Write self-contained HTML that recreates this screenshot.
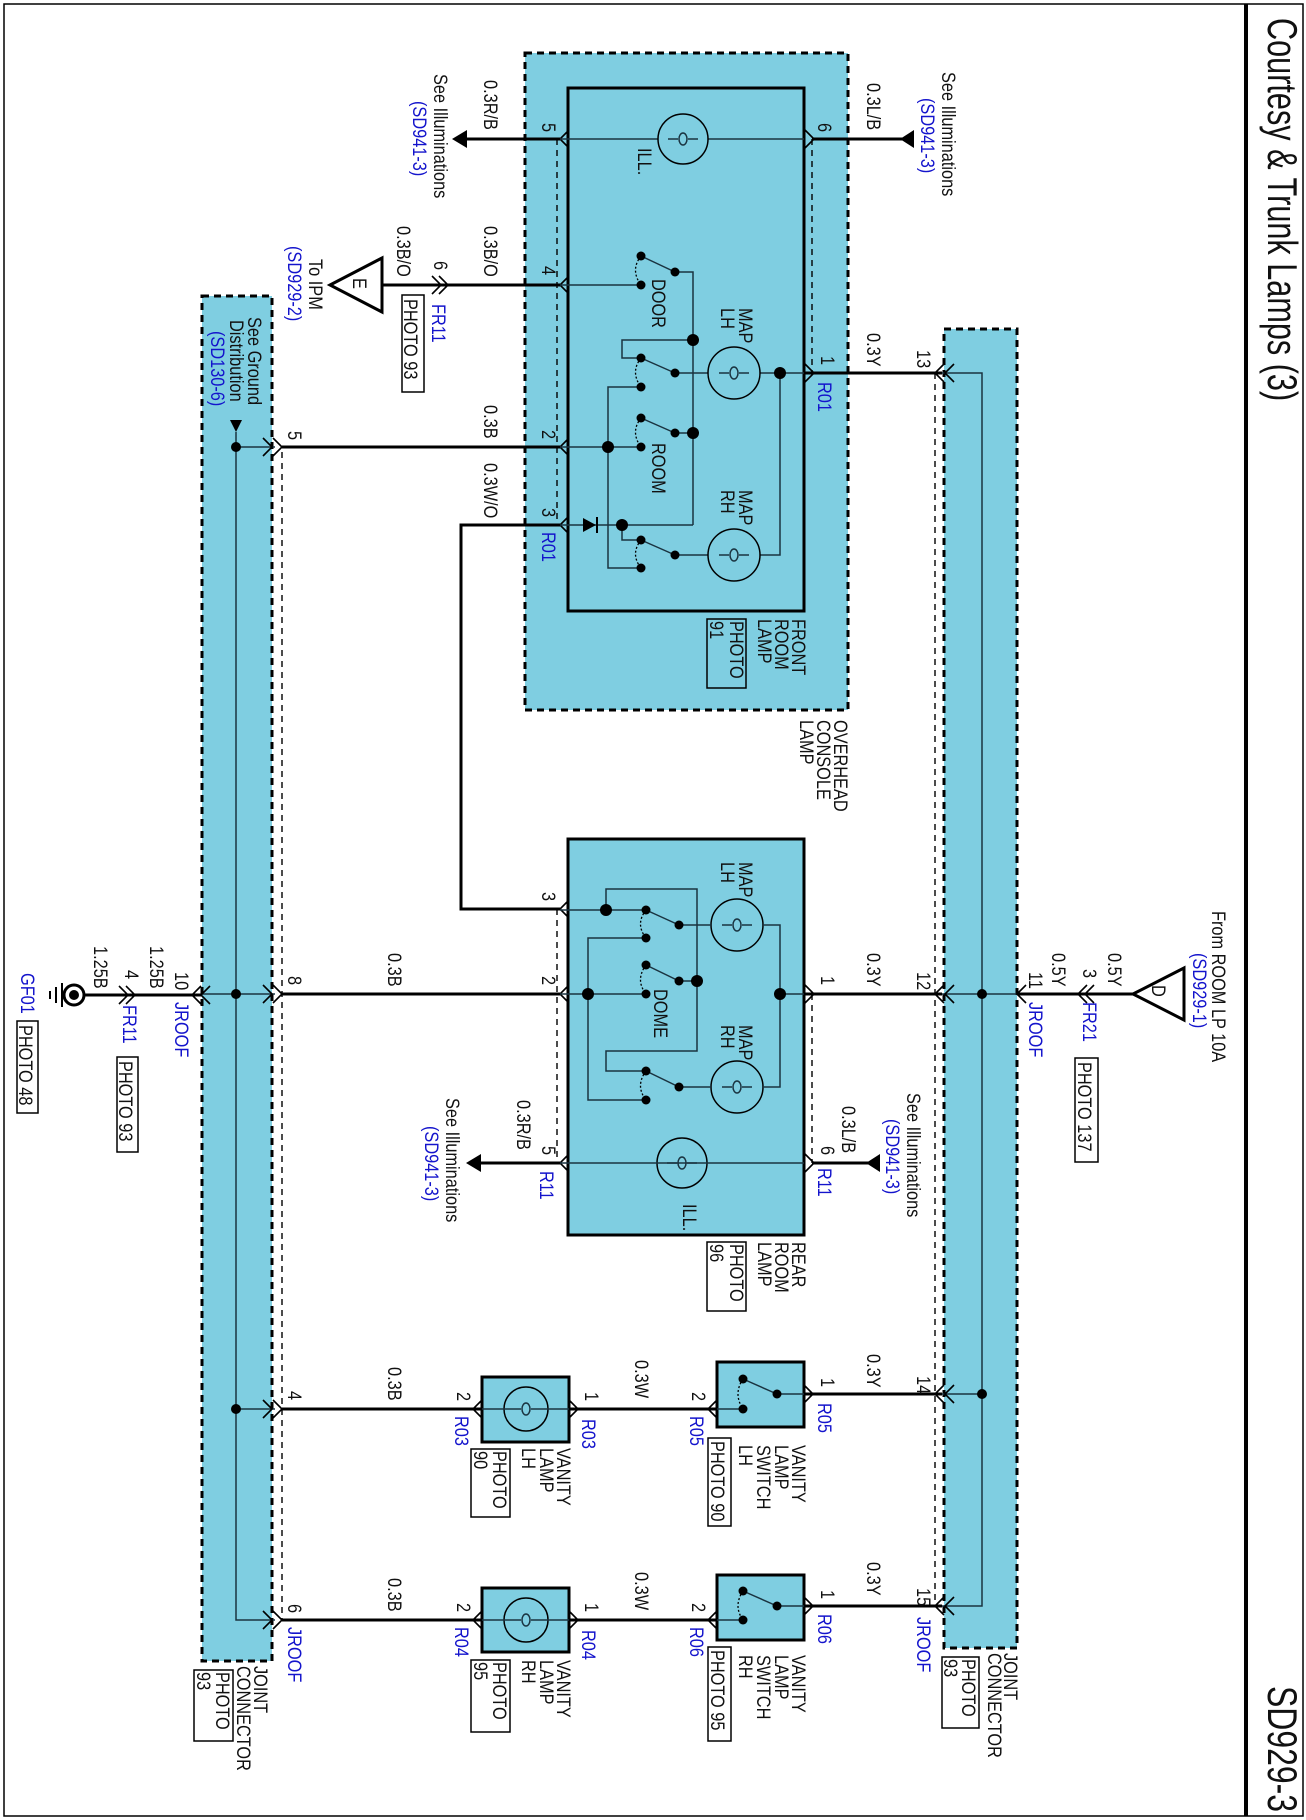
<!DOCTYPE html>
<html><head><meta charset="utf-8"><style>
html,body{margin:0;padding:0;background:#fff;}
svg{display:block;}
text{font-family:"Liberation Sans",Arial,sans-serif;font-size:19px;fill:#111;}
.b{fill:#1414cc;}
.w{stroke:#000;stroke-width:3;fill:none;}
.t{stroke:#1a3340;stroke-width:1.5;fill:none;}
.c{stroke:#000;stroke-width:1.6;fill:none;}
.d{stroke:#000;stroke-width:1.4;fill:none;stroke-dasharray:6,5;}
.bx{stroke:#000;stroke-width:1.5;fill:none;}
.cy{fill:#7fcee1;stroke:#000;stroke-width:3;stroke-dasharray:7,5;}
.lb{fill:#7fcee1;stroke:#000;stroke-width:3;}
.sa{stroke:#000;stroke-width:1.3;fill:none;stroke-dasharray:2,2;}
</style></head><body>
<svg width="1306" height="1820" viewBox="0 0 1306 1820" xmlns="http://www.w3.org/2000/svg">
<rect x="4" y="4" width="1299" height="1812" fill="none" stroke="#000" stroke-width="1.5"/>
<line x1="1246" y1="4" x2="1246" y2="1816" stroke="#000" stroke-width="4"/>
<text style="font-size:42px" transform="translate(1268,18) rotate(90) scale(.73,1)">Courtesy &amp; Trunk Lamps (3)</text>
<text style="font-size:42px" transform="translate(1268,1686) rotate(90) scale(.76,1)">SD929-3</text>

<rect class="cy" x="525" y="53" width="323" height="657"/>
<rect class="cy" x="202" y="296" width="70" height="1365"/>
<rect class="cy" x="944" y="329" width="73" height="1319"/>
<rect class="lb" x="568" y="88" width="236" height="523"/>
<rect class="lb" x="568" y="839" width="236" height="396"/>
<rect class="lb" x="482" y="1377" width="87" height="65"/>
<rect class="lb" x="482" y="1588" width="87" height="64"/>
<rect class="lb" x="717" y="1362" width="87" height="65"/>
<rect class="lb" x="717" y="1575" width="87" height="65"/>

<line class="d" x1="557" y1="139" x2="557" y2="525"/>
<line class="d" x1="812" y1="139" x2="812" y2="373"/>
<line class="d" x1="557" y1="909" x2="557" y2="1163"/>
<line class="d" x1="812" y1="994" x2="812" y2="1163"/>
<line class="d" x1="282" y1="452" x2="282" y2="1620"/>
<line class="d" x1="935" y1="373" x2="935" y2="1606"/>

<path class="t" d="M236,432 V1620 H275"/>
<polygon points="230,420 242,420 236,432" fill="#000"/>
<path class="t" d="M942,373 H982 V1606 H942"/>
<line class="t" x1="236" y1="447" x2="275" y2="447"/>
<line class="t" x1="202" y1="994" x2="275" y2="994"/>
<line class="t" x1="236" y1="1409" x2="275" y2="1409"/>
<line class="t" x1="942" y1="994" x2="1017" y2="994"/>
<line class="t" x1="942" y1="1394" x2="982" y2="1394"/>
<g fill="#000"><circle cx="236" cy="447" r="5"/><circle cx="236" cy="994" r="5"/><circle cx="236" cy="1409" r="5"/>
<circle cx="982" cy="994" r="5"/><circle cx="982" cy="1394" r="5"/></g>

<line class="w" x1="466" y1="139" x2="560" y2="139"/>
<polygon points="452,139 467,130 467,148" fill="#000"/>
<line class="w" x1="812" y1="139" x2="905" y2="139"/>
<polygon points="900,139 914,130 914,148" fill="#000"/>
<line class="w" x1="382" y1="285" x2="560" y2="285"/>
<polygon points="330,285 382,258 382,312" fill="#fff" stroke="#000" stroke-width="3"/>
<line class="w" x1="804" y1="373" x2="942" y2="373"/>
<line class="w" x1="282" y1="447" x2="560" y2="447"/>
<path class="w" d="M560,525 H461 V909 H560"/>
<line class="w" x1="84" y1="995" x2="202" y2="995"/>
<line class="w" x1="282" y1="994" x2="560" y2="994"/>
<line class="w" x1="804" y1="994" x2="942" y2="994"/>
<line class="w" x1="1017" y1="994" x2="1133" y2="994"/>
<polygon points="1133,994 1184,968 1184,1020" fill="#fff" stroke="#000" stroke-width="3"/>
<line class="w" x1="476" y1="1163" x2="560" y2="1163"/>
<polygon points="466,1163 481,1154 481,1172" fill="#000"/>
<line class="w" x1="812" y1="1163" x2="870" y2="1163"/>
<polygon points="866,1163 880,1154 880,1172" fill="#000"/>
<line class="w" x1="282" y1="1409" x2="482" y2="1409"/>
<line class="w" x1="569" y1="1409" x2="717" y2="1409"/>
<line class="w" x1="804" y1="1394" x2="942" y2="1394"/>
<line class="w" x1="282" y1="1620" x2="482" y2="1620"/>
<line class="w" x1="569" y1="1620" x2="717" y2="1620"/>
<line class="w" x1="804" y1="1606" x2="942" y2="1606"/>

<circle cx="74" cy="995" r="10" fill="none" stroke="#000" stroke-width="3"/>
<circle cx="74" cy="995" r="5" fill="#000"/>
<line x1="62" y1="983" x2="62" y2="1007" stroke="#000" stroke-width="2"/>
<line x1="56" y1="987" x2="56" y2="1003" stroke="#000" stroke-width="2"/>
<line x1="50" y1="991" x2="50" y2="999" stroke="#000" stroke-width="2"/>

<g class="c">
<path d="M569,130 L560,139 L569,148"/><path d="M569,276 L560,285 L569,294"/><path d="M569,438 L560,447 L569,456"/><path d="M569,516 L560,525 L569,534"/>
<path d="M805,130 L814,139 L805,148"/><path d="M805,364 L814,373 L805,382"/>
<path d="M569,900 L560,909 L569,918"/><path d="M569,985 L560,994 L569,1003"/><path d="M569,1154 L560,1163 L569,1172"/>
<path d="M805,985 L814,994 L805,1003"/><path d="M805,1154 L814,1163 L805,1172"/>
<path d="M432,276 L441,285 L432,294"/><path d="M439,276 L448,285 L439,294"/>
<path d="M119,986 L128,995 L119,1004"/><path d="M126,986 L135,995 L126,1004"/>
<path d="M201,986 L192,995 L201,1004"/><path d="M210,986 L201,995 L210,1004"/>
<path d="M1087,985 L1078,994 L1087,1003"/><path d="M1094,985 L1085,994 L1094,1003"/>
<path d="M1026,985 L1017,994 L1026,1003"/>
<path d="M263,438 L272,447 L263,456"/><path d="M273,438 L282,447 L273,456"/>
<path d="M263,985 L272,994 L263,1003"/><path d="M273,985 L282,994 L273,1003"/>
<path d="M263,1400 L272,1409 L263,1418"/><path d="M273,1400 L282,1409 L273,1418"/>
<path d="M263,1611 L272,1620 L263,1629"/><path d="M273,1611 L282,1620 L273,1629"/>
<path d="M944,364 L935,373 L944,382"/><path d="M954,364 L945,373 L954,382"/>
<path d="M944,985 L935,994 L944,1003"/><path d="M954,985 L945,994 L954,1003"/>
<path d="M944,1385 L935,1394 L944,1403"/><path d="M954,1385 L945,1394 L954,1403"/>
<path d="M944,1597 L935,1606 L944,1615"/><path d="M954,1597 L945,1606 L954,1615"/>
<path d="M482,1400 L473,1409 L482,1418"/><path d="M569,1400 L578,1409 L569,1418"/>
<path d="M482,1611 L473,1620 L482,1629"/><path d="M569,1611 L578,1620 L569,1629"/>
<path d="M717,1400 L708,1409 L717,1418"/><path d="M804,1385 L813,1394 L804,1403"/>
<path d="M717,1611 L708,1620 L717,1629"/><path d="M804,1597 L813,1606 L804,1615"/>
</g>

<g class="t">
<line x1="560" y1="139" x2="804" y2="139"/>
<line x1="560" y1="285" x2="641" y2="285"/>
<path d="M675,272 H693 V525"/>
<path d="M641,358 H622 V340 H693"/>
<path d="M641,387 H608 V568 H641"/>
<line x1="675" y1="373" x2="804" y2="373"/>
<path d="M780,373 V555 H675"/>
<line x1="560" y1="447" x2="641" y2="447"/>
<line x1="675" y1="433" x2="693" y2="433"/>
<line x1="560" y1="525" x2="693" y2="525"/>
<path d="M622,525 V540 H641"/>
<line x1="641" y1="256" x2="675" y2="272"/><line x1="641" y1="358" x2="675" y2="373"/>
<line x1="641" y1="418" x2="675" y2="433"/><line x1="641" y1="540" x2="675" y2="555"/>
</g>
<polygon points="583,518 583,532 596,525" fill="#000"/><line x1="597" y1="517" x2="597" y2="533" stroke="#000" stroke-width="2"/>
<g class="sa"><path d="M641,256 Q630,270 641,285"/><path d="M641,358 Q630,372 641,387"/><path d="M641,418 Q630,432 641,447"/><path d="M641,540 Q630,554 641,568"/></g>
<g fill="#000">
<circle cx="641" cy="256" r="4.5"/><circle cx="675" cy="272" r="4.5"/><circle cx="641" cy="285" r="4.5"/>
<circle cx="693" cy="340" r="6"/><circle cx="641" cy="358" r="4.5"/><circle cx="675" cy="373" r="4.5"/><circle cx="641" cy="387" r="4.5"/>
<circle cx="780" cy="373" r="6"/>
<circle cx="641" cy="418" r="4.5"/><circle cx="675" cy="433" r="4.5"/><circle cx="693" cy="433" r="6"/><circle cx="641" cy="447" r="4.5"/><circle cx="608" cy="447" r="6"/>
<circle cx="622" cy="525" r="6"/><circle cx="641" cy="540" r="4.5"/><circle cx="675" cy="555" r="4.5"/><circle cx="641" cy="568" r="4.5"/>
</g>
<g fill="#7fcee1" stroke="#000" stroke-width="1.5">
<circle cx="683" cy="139" r="25"/><circle cx="734" cy="373" r="26"/><circle cx="734" cy="555" r="26"/>
<circle cx="682" cy="1163" r="25"/><circle cx="737" cy="925" r="26"/><circle cx="737" cy="1087" r="26"/>
<circle cx="526" cy="1409" r="22"/><circle cx="526" cy="1620" r="22"/>
</g>
<g class="t">
<path d="M668,139 H678 M688,139 H698"/><ellipse cx="683" cy="139" rx="4" ry="6"/>
<path d="M719,373 H729 M739,373 H749"/><ellipse cx="734" cy="373" rx="4" ry="6"/>
<path d="M719,555 H729 M739,555 H749"/><ellipse cx="734" cy="555" rx="4" ry="6"/>
<path d="M667,1163 H677 M687,1163 H697"/><ellipse cx="682" cy="1163" rx="4" ry="6"/>
<path d="M722,925 H732 M742,925 H752"/><ellipse cx="737" cy="925" rx="4" ry="6"/>
<path d="M722,1087 H732 M742,1087 H752"/><ellipse cx="737" cy="1087" rx="4" ry="6"/>
<path d="M482,1409 H521 M531,1409 H569"/><ellipse cx="526" cy="1409" rx="4" ry="6"/>
<path d="M482,1620 H521 M531,1620 H569"/><ellipse cx="526" cy="1620" rx="4" ry="6"/>
</g>

<g class="t">
<line x1="560" y1="1163" x2="804" y2="1163"/>
<line x1="560" y1="910" x2="646" y2="910"/>
<path d="M606,910 V889 H697 V1051 H606 V1071 H646"/>
<path d="M646,938 H588 V1100 H646"/>
<line x1="560" y1="994" x2="646" y2="994"/>
<line x1="679" y1="981" x2="697" y2="981"/>
<line x1="679" y1="925" x2="711" y2="925"/>
<path d="M763,925 H780 V1087 H763"/>
<line x1="679" y1="1087" x2="711" y2="1087"/>
<line x1="780" y1="994" x2="804" y2="994"/>
<line x1="646" y1="910" x2="679" y2="925"/><line x1="646" y1="965" x2="679" y2="981"/><line x1="646" y1="1071" x2="679" y2="1087"/>
</g>
<g class="sa"><path d="M646,910 Q635,924 646,938"/><path d="M646,965 Q635,980 646,994"/><path d="M646,1071 Q635,1086 646,1100"/></g>
<g fill="#000">
<circle cx="606" cy="910" r="6"/><circle cx="646" cy="910" r="4.5"/><circle cx="679" cy="925" r="4.5"/><circle cx="646" cy="938" r="4.5"/>
<circle cx="646" cy="965" r="4.5"/><circle cx="679" cy="981" r="4.5"/><circle cx="697" cy="981" r="6"/><circle cx="646" cy="994" r="4.5"/><circle cx="588" cy="994" r="6"/>
<circle cx="780" cy="994" r="6"/>
<circle cx="646" cy="1071" r="4.5"/><circle cx="679" cy="1087" r="4.5"/><circle cx="646" cy="1100" r="4.5"/>
</g>

<g class="t">
<path d="M717,1409 H743"/><line x1="743" y1="1379" x2="777" y2="1394"/><path d="M777,1394 H804"/>
<path d="M717,1620 H743"/><line x1="743" y1="1591" x2="777" y2="1606"/><path d="M777,1606 H804"/>
</g>
<g class="sa"><path d="M743,1379 Q733,1394 743,1409"/><path d="M743,1591 Q733,1606 743,1620"/></g>
<g fill="#000"><circle cx="743" cy="1379" r="4.5"/><circle cx="777" cy="1394" r="4.5"/><circle cx="743" cy="1409" r="4.5"/>
<circle cx="743" cy="1591" r="4.5"/><circle cx="777" cy="1606" r="4.5"/><circle cx="743" cy="1620" r="4.5"/></g>

<g class="bx">
<rect x="402" y="295" width="22" height="97"/>
<rect x="707" y="619" width="39" height="69"/>
<rect x="707" y="1242" width="39" height="69"/>
<rect x="1075" y="1058" width="23" height="104"/>
<rect x="117" y="1057" width="21" height="95"/>
<rect x="17" y="1021" width="21" height="92"/>
<rect x="471" y="1449" width="39" height="68"/>
<rect x="708" y="1438" width="23" height="88"/>
<rect x="471" y="1660" width="39" height="72"/>
<rect x="708" y="1647" width="23" height="94"/>
<rect x="194" y="1670" width="39" height="71"/>
<rect x="942" y="1657" width="37" height="71"/>
</g>

<g>
<text transform="translate(434,74) rotate(90) scale(.86,1)">See Illuminations</text>
<text class="b" transform="translate(413,101) rotate(90) scale(.86,1)">(SD941-3)</text>
<text transform="translate(484,80) rotate(90) scale(.86,1)">0.3R/B</text>
<text transform="translate(542,123) rotate(90) scale(.86,1)">5</text>
<text transform="translate(818,123) rotate(90) scale(.86,1)">6</text>
<text transform="translate(867,83) rotate(90) scale(.86,1)">0.3L/B</text>
<text transform="translate(942,72) rotate(90) scale(.86,1)">See Illuminations</text>
<text class="b" transform="translate(921,98) rotate(90) scale(.86,1)">(SD941-3)</text>
<text transform="translate(638,148) rotate(90) scale(.86,1)">ILL.</text>
<text transform="translate(484,226) rotate(90) scale(.86,1)">0.3B/O</text>
<text transform="translate(397,226) rotate(90) scale(.86,1)">0.3B/O</text>
<text transform="translate(434,261) rotate(90) scale(.86,1)">6</text>
<text transform="translate(542,266) rotate(90) scale(.86,1)">4</text>
<text transform="translate(309,259) rotate(90) scale(.86,1)">To IPM</text>
<text class="b" transform="translate(288,246) rotate(90) scale(.86,1)">(SD929-2)</text>
<text transform="translate(353,278) rotate(90) scale(.86,1)">E</text>
<text class="b" transform="translate(432,304) rotate(90) scale(.86,1)">FR11</text>
<text transform="translate(404,299) rotate(90) scale(.86,1)">PHOTO 93</text>
<text transform="translate(652,279) rotate(90) scale(.86,1)">DOOR</text>
<text transform="translate(739,308) rotate(90) scale(.86,1)">MAP</text>
<text transform="translate(721,308) rotate(90) scale(.86,1)">LH</text>
<text transform="translate(248,317) rotate(90) scale(.86,1)">See Ground</text>
<text transform="translate(230,320) rotate(90) scale(.86,1)">Distribution</text>
<text class="b" transform="translate(211,331) rotate(90) scale(.86,1)">(SD130-6)</text>
<text transform="translate(917,350) rotate(90) scale(.86,1)">13</text>
<text transform="translate(867,333) rotate(90) scale(.86,1)">0.3Y</text>
<text transform="translate(821,356) rotate(90) scale(.86,1)">1</text>
<text class="b" transform="translate(818,382) rotate(90) scale(.86,1)">R01</text>
<text transform="translate(484,405) rotate(90) scale(.86,1)">0.3B</text>
<text transform="translate(288,431) rotate(90) scale(.86,1)">5</text>
<text transform="translate(542,430) rotate(90) scale(.86,1)">2</text>
<text transform="translate(652,443) rotate(90) scale(.86,1)">ROOM</text>
<text transform="translate(739,490) rotate(90) scale(.86,1)">MAP</text>
<text transform="translate(721,490) rotate(90) scale(.86,1)">RH</text>
<text transform="translate(484,463) rotate(90) scale(.86,1)">0.3W/O</text>
<text transform="translate(542,508) rotate(90) scale(.86,1)">3</text>
<text class="b" transform="translate(542,532) rotate(90) scale(.86,1)">R01</text>
<text transform="translate(792,619) rotate(90) scale(.86,1)">FRONT</text>
<text transform="translate(775,619) rotate(90) scale(.86,1)">ROOM</text>
<text transform="translate(758,619) rotate(90) scale(.86,1)">LAMP</text>
<text transform="translate(730,621) rotate(90) scale(.86,1)">PHOTO</text>
<text transform="translate(710,621) rotate(90) scale(.86,1)">91</text>
<text transform="translate(834,720) rotate(90) scale(.86,1)">OVERHEAD</text>
<text transform="translate(817,720) rotate(90) scale(.86,1)">CONSOLE</text>
<text transform="translate(800,720) rotate(90) scale(.86,1)">LAMP</text>

<text transform="translate(739,862) rotate(90) scale(.86,1)">MAP</text>
<text transform="translate(721,862) rotate(90) scale(.86,1)">LH</text>
<text transform="translate(542,892) rotate(90) scale(.86,1)">3</text>
<text transform="translate(1212,911) rotate(90) scale(.86,1)">From ROOM LP 10A</text>
<text class="b" transform="translate(1193,953) rotate(90) scale(.86,1)">(SD929-1)</text>
<text transform="translate(1108,953) rotate(90) scale(.86,1)">0.5Y</text>
<text transform="translate(1083,969) rotate(90) scale(.86,1)">3</text>
<text transform="translate(1052,953) rotate(90) scale(.86,1)">0.5Y</text>
<text transform="translate(1029,972) rotate(90) scale(.86,1)">11</text>
<text class="b" transform="translate(1029,1002) rotate(90) scale(.86,1)">JROOF</text>
<text class="b" transform="translate(1083,1002) rotate(90) scale(.86,1)">FR21</text>
<text transform="translate(1078,1062) rotate(90) scale(.86,1)">PHOTO 137</text>
<text transform="translate(1152,985) rotate(90) scale(.86,1)">D</text>
<text transform="translate(917,972) rotate(90) scale(.86,1)">12</text>
<text transform="translate(867,953) rotate(90) scale(.86,1)">0.3Y</text>
<text transform="translate(821,976) rotate(90) scale(.86,1)">1</text>
<text transform="translate(388,953) rotate(90) scale(.86,1)">0.3B</text>
<text transform="translate(288,976) rotate(90) scale(.86,1)">8</text>
<text transform="translate(542,976) rotate(90) scale(.86,1)">2</text>
<text transform="translate(175,972) rotate(90) scale(.86,1)">10</text>
<text class="b" transform="translate(175,1002) rotate(90) scale(.86,1)">JROOF</text>
<text transform="translate(150,946) rotate(90) scale(.86,1)">1.25B</text>
<text transform="translate(125,970) rotate(90) scale(.86,1)">4</text>
<text transform="translate(94,946) rotate(90) scale(.86,1)">1.25B</text>
<text class="b" transform="translate(123,1005) rotate(90) scale(.86,1)">FR11</text>
<text transform="translate(119,1061) rotate(90) scale(.86,1)">PHOTO 93</text>
<text class="b" transform="translate(21,973) rotate(90) scale(.86,1)">GF01</text>
<text transform="translate(19,1025) rotate(90) scale(.86,1)">PHOTO 48</text>
<text transform="translate(654,989) rotate(90) scale(.86,1)">DOME</text>
<text transform="translate(739,1025) rotate(90) scale(.86,1)">MAP</text>
<text transform="translate(721,1025) rotate(90) scale(.86,1)">RH</text>
<text transform="translate(517,1100) rotate(90) scale(.86,1)">0.3R/B</text>
<text transform="translate(542,1146) rotate(90) scale(.86,1)">5</text>
<text class="b" transform="translate(540,1171) rotate(90) scale(.86,1)">R11</text>
<text transform="translate(446,1098) rotate(90) scale(.86,1)">See Illuminations</text>
<text class="b" transform="translate(425,1126) rotate(90) scale(.86,1)">(SD941-3)</text>
<text transform="translate(683,1204) rotate(90) scale(.86,1)">ILL.</text>
<text transform="translate(821,1146) rotate(90) scale(.86,1)">6</text>
<text class="b" transform="translate(818,1168) rotate(90) scale(.86,1)">R11</text>
<text transform="translate(842,1106) rotate(90) scale(.86,1)">0.3L/B</text>
<text transform="translate(907,1093) rotate(90) scale(.86,1)">See Illuminations</text>
<text class="b" transform="translate(886,1119) rotate(90) scale(.86,1)">(SD941-3)</text>
<text transform="translate(792,1242) rotate(90) scale(.86,1)">REAR</text>
<text transform="translate(775,1242) rotate(90) scale(.86,1)">ROOM</text>
<text transform="translate(758,1242) rotate(90) scale(.86,1)">LAMP</text>
<text transform="translate(730,1244) rotate(90) scale(.86,1)">PHOTO</text>
<text transform="translate(710,1244) rotate(90) scale(.86,1)">96</text>

<text transform="translate(388,1367) rotate(90) scale(.86,1)">0.3B</text>
<text transform="translate(288,1391) rotate(90) scale(.86,1)">4</text>
<text transform="translate(457,1392) rotate(90) scale(.86,1)">2</text>
<text class="b" transform="translate(455,1416) rotate(90) scale(.86,1)">R03</text>
<text transform="translate(585,1392) rotate(90) scale(.86,1)">1</text>
<text class="b" transform="translate(582,1419) rotate(90) scale(.86,1)">R03</text>
<text transform="translate(635,1360) rotate(90) scale(.86,1)">0.3W</text>
<text transform="translate(692,1392) rotate(90) scale(.86,1)">2</text>
<text class="b" transform="translate(690,1416) rotate(90) scale(.86,1)">R05</text>
<text transform="translate(821,1378) rotate(90) scale(.86,1)">1</text>
<text class="b" transform="translate(818,1403) rotate(90) scale(.86,1)">R05</text>
<text transform="translate(867,1354) rotate(90) scale(.86,1)">0.3Y</text>
<text transform="translate(917,1376) rotate(90) scale(.86,1)">14</text>
<text transform="translate(557,1448) rotate(90) scale(.86,1)">VANITY</text>
<text transform="translate(540,1448) rotate(90) scale(.86,1)">LAMP</text>
<text transform="translate(522,1448) rotate(90) scale(.86,1)">LH</text>
<text transform="translate(493,1451) rotate(90) scale(.86,1)">PHOTO</text>
<text transform="translate(474,1451) rotate(90) scale(.86,1)">90</text>
<text transform="translate(792,1445) rotate(90) scale(.86,1)">VANITY</text>
<text transform="translate(775,1445) rotate(90) scale(.86,1)">LAMP</text>
<text transform="translate(757,1445) rotate(90) scale(.86,1)">SWITCH</text>
<text transform="translate(739,1445) rotate(90) scale(.86,1)">LH</text>
<text transform="translate(711,1441) rotate(90) scale(.86,1)">PHOTO 90</text>

<text transform="translate(388,1578) rotate(90) scale(.86,1)">0.3B</text>
<text transform="translate(288,1604) rotate(90) scale(.86,1)">6</text>
<text class="b" transform="translate(288,1627) rotate(90) scale(.86,1)">JROOF</text>
<text transform="translate(457,1603) rotate(90) scale(.86,1)">2</text>
<text class="b" transform="translate(455,1627) rotate(90) scale(.86,1)">R04</text>
<text transform="translate(585,1603) rotate(90) scale(.86,1)">1</text>
<text class="b" transform="translate(582,1630) rotate(90) scale(.86,1)">R04</text>
<text transform="translate(635,1572) rotate(90) scale(.86,1)">0.3W</text>
<text transform="translate(692,1603) rotate(90) scale(.86,1)">2</text>
<text class="b" transform="translate(690,1627) rotate(90) scale(.86,1)">R06</text>
<text transform="translate(821,1590) rotate(90) scale(.86,1)">1</text>
<text class="b" transform="translate(818,1614) rotate(90) scale(.86,1)">R06</text>
<text transform="translate(867,1562) rotate(90) scale(.86,1)">0.3Y</text>
<text transform="translate(917,1588) rotate(90) scale(.86,1)">15</text>
<text class="b" transform="translate(917,1617) rotate(90) scale(.86,1)">JROOF</text>
<text transform="translate(557,1660) rotate(90) scale(.86,1)">VANITY</text>
<text transform="translate(540,1660) rotate(90) scale(.86,1)">LAMP</text>
<text transform="translate(522,1660) rotate(90) scale(.86,1)">RH</text>
<text transform="translate(493,1662) rotate(90) scale(.86,1)">PHOTO</text>
<text transform="translate(474,1662) rotate(90) scale(.86,1)">95</text>
<text transform="translate(792,1655) rotate(90) scale(.86,1)">VANITY</text>
<text transform="translate(775,1655) rotate(90) scale(.86,1)">LAMP</text>
<text transform="translate(757,1655) rotate(90) scale(.86,1)">SWITCH</text>
<text transform="translate(739,1655) rotate(90) scale(.86,1)">RH</text>
<text transform="translate(711,1650) rotate(90) scale(.86,1)">PHOTO 95</text>

<text transform="translate(254,1666) rotate(90) scale(.86,1)">JOINT</text>
<text transform="translate(237,1666) rotate(90) scale(.86,1)">CONNECTOR</text>
<text transform="translate(216,1672) rotate(90) scale(.86,1)">PHOTO</text>
<text transform="translate(197,1672) rotate(90) scale(.86,1)">93</text>
<text transform="translate(1004,1653) rotate(90) scale(.86,1)">JOINT</text>
<text transform="translate(988,1653) rotate(90) scale(.86,1)">CONNECTOR</text>
<text transform="translate(962,1659) rotate(90) scale(.86,1)">PHOTO</text>
<text transform="translate(944,1659) rotate(90) scale(.86,1)">93</text>
</g>
</svg>
</body></html>
